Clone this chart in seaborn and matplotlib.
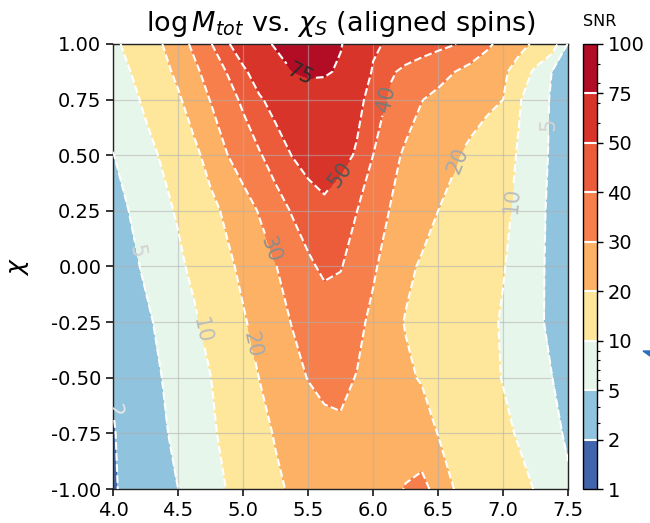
import numpy as np
import matplotlib
matplotlib.use("Agg")
import matplotlib.pyplot as plt
from matplotlib.colors import LogNorm
from matplotlib.patches import Polygon
from matplotlib.ticker import FixedLocator
import seaborn as sns

# log10 of total mass (columns) and effective aligned spin (rows)
log_mtot = [4.0, 4.125, 4.25, 4.375, 4.5, 4.625, 4.75, 4.875, 5.0, 5.125,
            5.25, 5.375, 5.5, 5.625, 5.75, 5.875, 6.0, 6.125, 6.25, 6.375,
            6.5, 6.625, 6.75, 6.875, 7.0, 7.125, 7.25, 7.375, 7.5]
chi_s = [-1.0, -0.75, -0.5, -0.25, 0.0, 0.25, 0.5, 0.75, 0.875, 1.0]

# SNR on the grid, one row per chi_s value (bottom to top)
snr_grid = [
    [1.8, 2.5, 3.3, 4.2, 5.0, 6.7, 8.4, 10.1, 13.0, 15.8, 18.6, 21.0, 23.0, 25.0, 27.0,
     26.6, 26.2, 27.6, 30.4, 32.3, 27.3, 19.8, 17.7, 15.6, 13.7, 11.7, 9.7, 7.6, 5.5],
    [1.85, 2.8, 3.7, 4.5, 5.8, 7.4, 9.1, 11.4, 14.5, 17.6, 20.6, 22.9, 25.3, 27.6, 28.8,
     28.2, 27.0, 26.6, 26.5, 25.0, 19.7, 17.6, 15.5, 13.4, 11.3, 9.4, 7.6, 5.9, 4.5],
    [2.2, 3.3, 4.1, 5.0, 6.6, 8.2, 9.9, 13.2, 16.7, 20.1, 23.6, 27.1, 30.3, 32.2, 31.8,
     29.7, 27.0, 24.2, 21.6, 19.2, 17.3, 15.4, 13.5, 11.6, 9.75, 8.2, 6.6, 5.05, 3.6],
    [2.8, 3.6, 4.5, 5.6, 7.4, 9.2, 12.0, 15.6, 19.1, 22.9, 26.7, 30.3, 33.1, 35.8, 35.2,
     32.1, 28.1, 23.3, 19.5, 17.8, 16.2, 14.5, 12.9, 11.2, 9.5, 7.7, 5.8, 4.25, 3.0],
    [3.3, 4.3, 5.4, 7.2, 8.9, 11.3, 14.7, 18.2, 21.9, 25.8, 29.7, 34.1, 38.6, 41.5, 40.5,
     36.2, 31.2, 26.5, 21.9, 19.0, 17.2, 15.5, 13.8, 12.0, 10.3, 8.1, 5.9, 4.25, 3.0],
    [3.8, 5.05, 6.8, 8.5, 10.6, 14.1, 17.7, 21.6, 26.1, 30.6, 35.8, 40.6, 43.9, 47.0, 43.5,
     40.1, 35.0, 29.9, 26.6, 23.3, 20.0, 17.8, 15.6, 13.4, 11.2, 8.8, 6.1, 4.3, 3.2],
    [4.9, 6.5, 8.4, 10.5, 14.2, 18.0, 23.2, 29.7, 34.4, 39.1, 44.5, 50.2, 54.5, 57.2, 53.4,
     48.9, 40.0, 33.1, 28.6, 26.0, 23.5, 20.9, 18.1, 15.2, 12.3, 9.4, 6.6, 4.5, 3.3],
    [6.5, 8.5, 10.9, 14.8, 18.8, 24.3, 30.4, 35.9, 41.7, 48.6, 54.0, 59.0, 64.0, 63.0, 58.0,
     53.0, 46.2, 38.5, 34.3, 30.2, 28.1, 26.0, 24.0, 22.0, 20.0, 10.4, 7.0, 4.6, 3.5],
    [7.2, 9.7, 13.4, 17.3, 21.9, 27.9, 34.0, 40.3, 47.6, 56.3, 65.4, 74.6, 78.5, 77.8, 72.1,
     60.1, 48.8, 41.5, 37.9, 35.3, 32.7, 30.1, 27.3, 24.6, 21.8, 15.5, 8.2, 4.96, 4.0],
    [8.0, 12.3, 16.1, 19.8, 25.7, 32.1, 39.4, 48.2, 58.1, 68.1, 77.3, 84.7, 92.0, 84.1, 76.3,
     64.5, 52.0, 48.3, 46.3, 44.4, 42.4, 40.4, 36.3, 31.7, 27.2, 23.0, 18.3, 12.8, 4.7],
]

snr_levels = [1, 2, 5, 10, 20, 30, 40, 50, 75, 100]
snr_minor = [3, 4, 6, 7, 8, 9, 60, 70, 80, 90]
x_ticks = [4.0, 4.5, 5.0, 5.5, 6.0, 6.5, 7.0, 7.5]
y_ticks = [-1.0, -0.75, -0.5, -0.25, 0.0, 0.25, 0.5, 0.75, 1.0]

# contour labels: level -> (label colour, positions)
label_specs = {
    75: ("#2b2b2b", [(5.44, 0.87)]),
    50: ("#555555", [(5.76, 0.41)]),
    40: ("#7a7a7a", [(6.05, 0.76)]),
    30: ("#8c8c8c", [(5.19, 0.07)]),
    20: ("#a9a9a9", [(5.09, -0.35), (6.62, 0.48)]),
    10: ("#bdbdbd", [(4.67, -0.29), (7.04, 0.30)]),
    5: ("#d2d2d2", [(4.21, 0.07), (7.32, 0.64)]),
    2: ("#e6e6e6", [(4.03, -0.62)]),
}

sns.set_theme(style="ticks")
plt.rcParams["font.family"] = ["DejaVu Sans"]
for key in ("text.color", "axes.labelcolor", "xtick.color", "ytick.color",
            "axes.edgecolor"):
    plt.rcParams[key] = "black"

fig = plt.figure(figsize=(6.5, 5.23), dpi=100)
ax = fig.add_axes([0.174, 0.065, 0.700, 0.851])
cax = fig.add_axes([0.897, 0.065, 0.0215, 0.851])

X, Y = np.meshgrid(log_mtot, chi_s)
Z = np.array(snr_grid)

# one colour per SNR band, sampled on a log scale from RdYlBu_r
cmap = sns.color_palette("RdYlBu_r", as_cmap=True)
norm = LogNorm(vmin=snr_levels[0], vmax=snr_levels[-1])
band_mid = [np.sqrt(a * b) for a, b in zip(snr_levels[:-1], snr_levels[1:])]
band_colors = [cmap(norm(m)) for m in band_mid]

filled = ax.contourf(X, Y, Z, levels=snr_levels, colors=band_colors, zorder=1)
lines = ax.contour(X, Y, Z, levels=snr_levels[1:-1], colors="white",
                   linestyles="dashed", linewidths=1.5, zorder=3)

label_levels = sorted(label_specs)
label_colors = [label_specs[lv][0] for lv in label_levels]
label_pos = [p for lv in label_levels for p in label_specs[lv][1]]
ax.clabel(lines, levels=label_levels, colors=label_colors, fontsize=15,
          fmt="%d", manual=label_pos, inline=True, inline_spacing=4)

ax.set_xlim(4.0, 7.5)
ax.set_ylim(-1.0, 1.0)
ax.set_xticks(x_ticks)
ax.set_yticks(y_ticks)
ax.set_xticklabels([f"{v:.1f}" for v in x_ticks])
ax.set_yticklabels([f"{v:.2f}" for v in y_ticks])
ax.tick_params(labelsize=14, length=5, width=1.1, color="black")
ax.set_axisbelow("line")
ax.grid(True, color="#b0b0b0", alpha=0.55, linewidth=0.9)
for s in ax.spines.values():
    s.set_color("#222222")
    s.set_linewidth(1.0)

ax.set_title(r"$\log M_{tot}$ vs. $\chi_S$ (aligned spins)", fontsize=19.5, pad=9)
ax.set_ylabel(r"$\chi$", fontsize=18, labelpad=14)

cbar = fig.colorbar(filled, cax=cax, ticks=snr_levels)
cbar.ax.set_yticklabels([str(v) for v in snr_levels])
cbar.ax.yaxis.set_minor_locator(FixedLocator(snr_minor))
cbar.ax.tick_params(which="major", labelsize=14, length=4, width=1.0)
cbar.ax.tick_params(which="minor", length=2.5, width=0.8)
cbar.ax.set_title("SNR", fontsize=11.5, pad=13, loc="left")
cbar.outline.set_linewidth(1.0)
cbar.add_lines(lines)
for ln in cbar.ax.collections[1:]:
    ln.set_linestyle("solid")

# small blue marker clipped at the right edge of the canvas
fig.add_artist(Polygon([(643, 523 - 351), (653, 523 - 351), (650, 523 - 356)],
                       closed=True, transform=None, color="#2a6fc0"))

fig.savefig("out.png", dpi=100)
